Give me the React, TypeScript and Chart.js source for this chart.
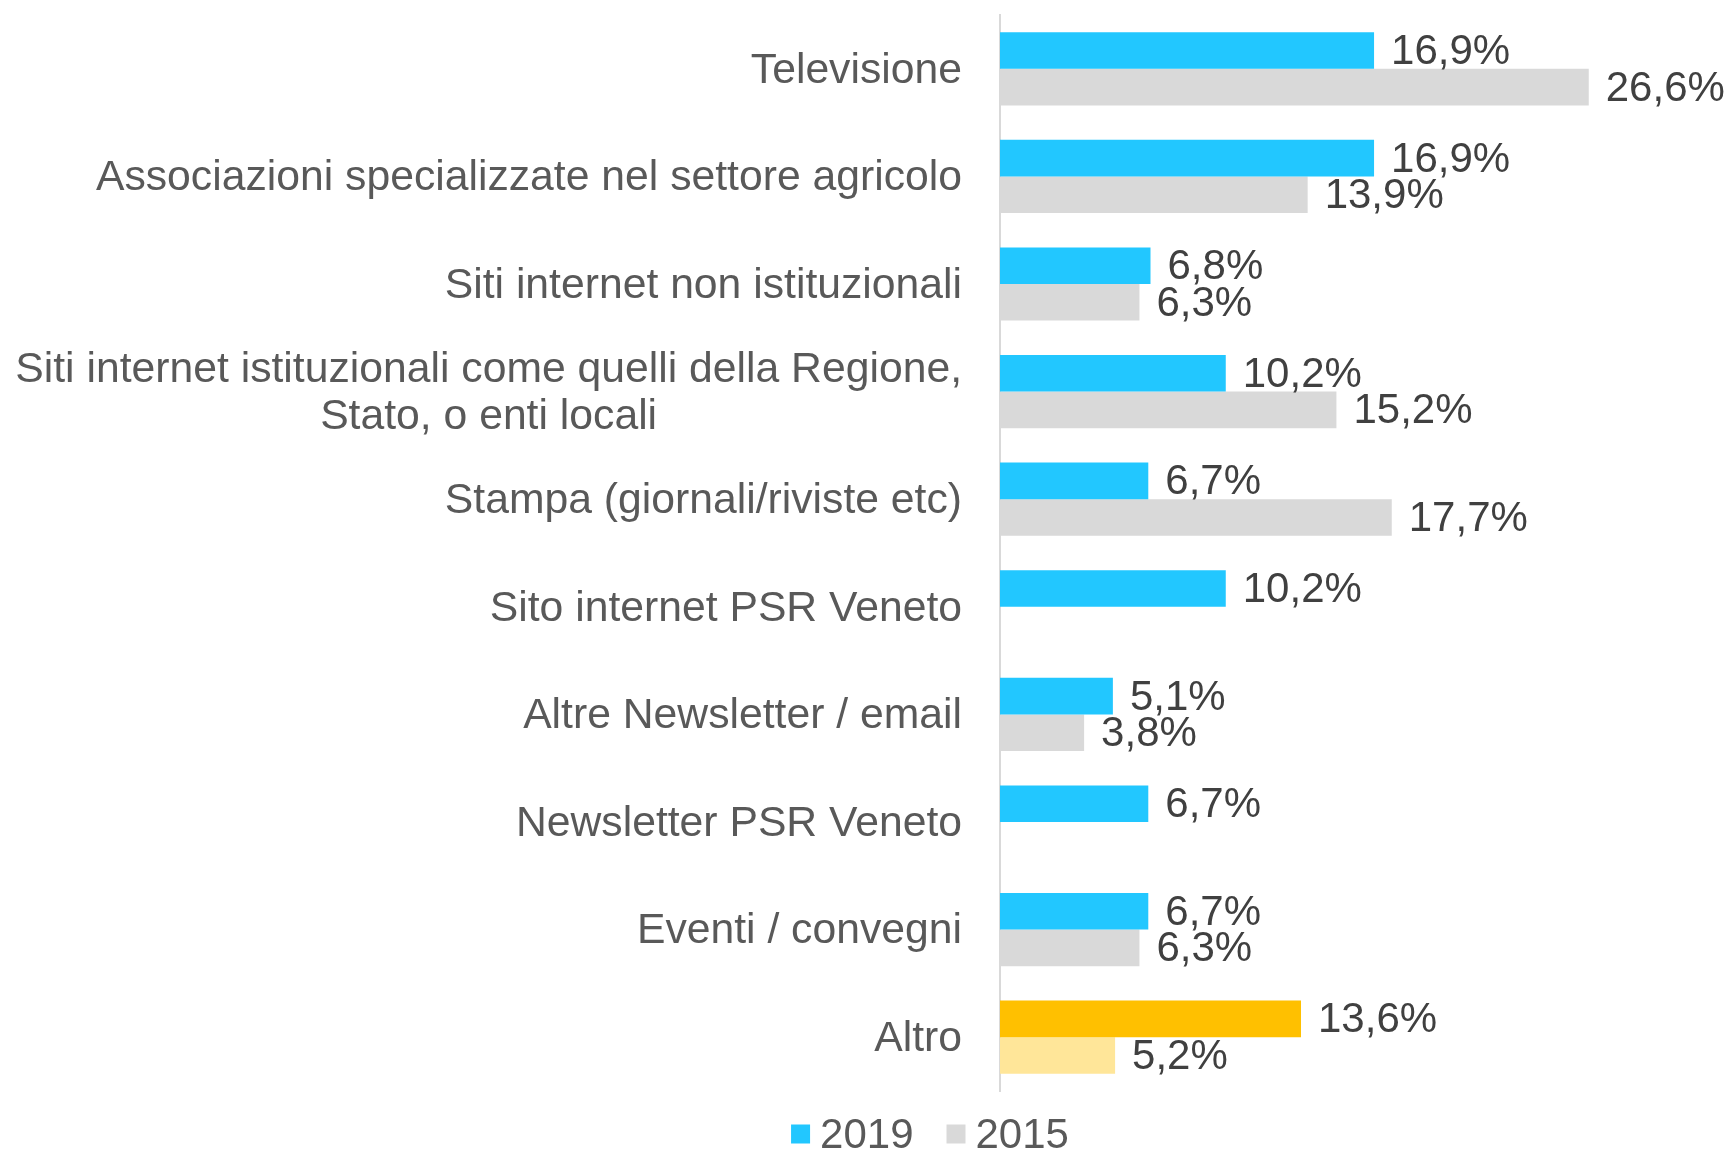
import React, { useEffect, useRef } from "react";
import { Chart, registerables } from "chart.js";

Chart.register(...registerables);

const categories: (string | string[])[] = [
  "Televisione",
  "Associazioni specializzate nel settore agricolo",
  "Siti internet non istituzionali",
  ["Siti internet istituzionali come quelli della Regione,", "Stato, o enti locali"],
  "Stampa (giornali/riviste etc)",
  "Sito internet PSR Veneto",
  "Altre Newsletter / email",
  "Newsletter PSR Veneto",
  "Eventi / convegni",
  "Altro",
];

const seriesNames = ["2019", "2015"];
const values2019: (number | null)[] = [16.9, 16.9, 6.8, 10.2, 6.7, 10.2, 5.1, 6.7, 6.7, 13.6];
const values2015: (number | null)[] = [26.6, 13.9, 6.3, 15.2, 17.7, null, 3.8, null, 6.3, 5.2];

const BLUE = "#22C7FF";
const GRAY = "#D9D9D9";
const ORANGE = "#FFC000";
const LIGHT_ORANGE = "#FFE699";

const colors2019 = categories.map((_, i) => (i === categories.length - 1 ? ORANGE : BLUE));
const colors2015 = categories.map((_, i) => (i === categories.length - 1 ? LIGHT_ORANGE : GRAY));

const FONT = "42px 'Liberation Sans', Arial, sans-serif";
const CAT_FONT = "42.7px 'Liberation Sans', Arial, sans-serif";

const fmt = (v: number) => v.toFixed(1).replace(".", ",") + "%";

const customPlugin = {
  id: "customDraw",
  afterDatasetsDraw(chart: any) {
    const ctx = chart.ctx as CanvasRenderingContext2D;
    const yScale = chart.scales.y;
    ctx.save();

    // category labels
    ctx.font = CAT_FONT;
    ctx.fillStyle = "#595959";
    ctx.textBaseline = "middle";
    const rightX = yScale.right - 38;
    categories.forEach((lab, i) => {
      const cy = yScale.getPixelForValue(i);
      const lines = Array.isArray(lab) ? lab : [lab];
      const lh = 47;
      const widths = lines.map((l) => ctx.measureText(l).width);
      const blockW = Math.max(...widths);
      lines.forEach((l, k) => {
        const y = cy + (k - (lines.length - 1) / 2) * lh + 2;
        const x = rightX - blockW + (blockW - widths[k]) / 2;
        ctx.textAlign = "left";
        ctx.fillText(l, x, y);
      });
    });

    // value labels
    ctx.font = FONT;
    ctx.fillStyle = "#404040";
    ctx.textAlign = "left";
    chart.data.datasets.forEach((ds: any, di: number) => {
      const meta = chart.getDatasetMeta(di);
      meta.data.forEach((bar: any, i: number) => {
        const v = ds.data[i];
        if (v === null || v === undefined) return;
        ctx.fillText(fmt(v), bar.x + 17, bar.y + 2);
      });
    });

    // legend
    const box = 19;
    const gapBoxText = 10;
    const gapItems = 33;
    const legendCenterX = 930;
    const legendY = 1134;
    const legendColors = [BLUE, GRAY];
    const tw = seriesNames.map((n) => ctx.measureText(n).width);
    const total = seriesNames.reduce((s, _, k) => s + box + gapBoxText + tw[k], 0) + gapItems * (seriesNames.length - 1);
    let x = legendCenterX - total / 2;
    seriesNames.forEach((n, k) => {
      ctx.fillStyle = legendColors[k];
      ctx.fillRect(x, legendY - box / 2, box, box);
      x += box + gapBoxText;
      ctx.fillStyle = "#595959";
      ctx.fillText(n, x, legendY + 2);
      x += tw[k] + gapItems;
    });
    ctx.restore();
  },
};

export default function App() {
  const ref = useRef<HTMLCanvasElement>(null);
  useEffect(() => {
    if (!ref.current) return;
    const chart = new Chart(ref.current, {
      type: "bar",
      data: {
        labels: categories.map((c) => (Array.isArray(c) ? c.join(" ") : c)),
        datasets: [
          {
            label: seriesNames[0],
            data: values2019,
            backgroundColor: colors2019,
            categoryPercentage: 0.68,
            barPercentage: 1.0,
          },
          {
            label: seriesNames[1],
            data: values2015,
            backgroundColor: colors2015,
            categoryPercentage: 0.68,
            barPercentage: 1.0,
          },
        ],
      },
      options: {
        indexAxis: "y",
        responsive: false,
        animation: false,
        layout: { padding: { top: 15, bottom: 58, left: 0, right: 69 } },
        plugins: {
          legend: { display: false },
          tooltip: { enabled: false },
        },
        scales: {
          x: {
            display: false,
            min: 0,
            max: 30,
          },
          y: {
            grid: { display: false },
            border: { display: true, color: "#D9D9D9", width: 2 },
            ticks: { display: false },
            afterFit: (scale: any) => {
              scale.width = 1000;
            },
          },
        },
      },
      plugins: [customPlugin],
    });
    return () => chart.destroy();
  }, []);
  return (
    <div style={{ position: "absolute", left: 0, top: 0, width: 1733, height: 1149, background: "#fff" }}>
      <canvas ref={ref} width={1733} height={1149} style={{ display: "block" }} />
    </div>
  );
}
